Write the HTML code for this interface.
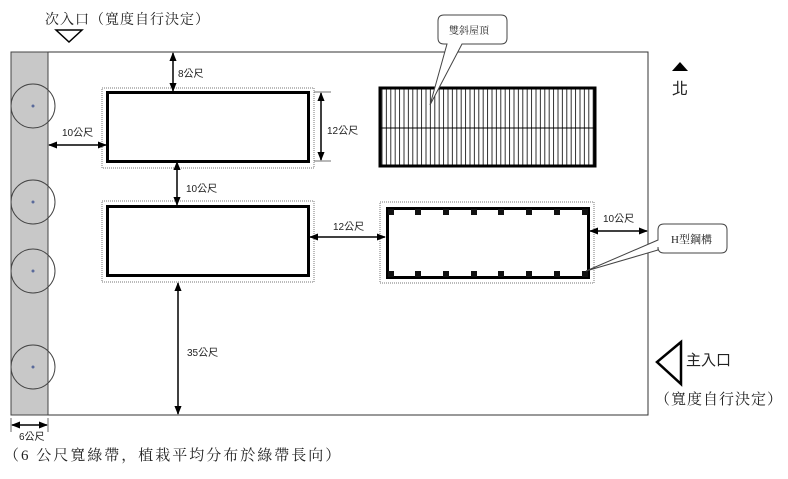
<!DOCTYPE html>
<html><head><meta charset="utf-8"><style>
html,body{margin:0;padding:0;background:#fff;}
svg{display:block;}
text{font-family:"Liberation Sans","Noto Sans CJK TC",sans-serif;fill:#222;}
.s{font-family:"Liberation Serif","Noto Serif CJK SC",serif;}
</style></head><body>
<svg width="788" height="479" viewBox="0 0 788 479" xmlns="http://www.w3.org/2000/svg">
<defs>
<marker id="a" viewBox="0 0 10 10" refX="9" refY="5" markerWidth="6" markerHeight="6" orient="auto-start-reverse"><path d="M0,1 L10,5 L0,9 z" fill="#000"/></marker>
<pattern id="vl" x="380" y="0" width="4.4" height="10" patternUnits="userSpaceOnUse"><line x1="2" y1="0" x2="2" y2="10" stroke="#000" stroke-width="0.8"/></pattern>
</defs>
<text x="45" y="24" font-size="14" class="s" letter-spacing="1">次入口（寬度自行決定）</text>
<polygon points="56,30 82,30 69,42" fill="none" stroke="#000" stroke-width="1.5"/>
<rect x="11" y="52" width="637" height="363" fill="#fff" stroke="#333" stroke-width="1"/>
<rect x="11" y="52" width="37" height="363" fill="#c8c8c8" stroke="#444" stroke-width="1"/>
<g fill="none" stroke="#444" stroke-width="1">
<circle cx="33" cy="106" r="22"/><circle cx="33" cy="202" r="22"/><circle cx="33" cy="271" r="22"/><circle cx="33" cy="367" r="22"/>
</g>
<g fill="#5a6a9a"><circle cx="33" cy="106" r="1.5"/><circle cx="33" cy="202" r="1.5"/><circle cx="33" cy="271" r="1.5"/><circle cx="33" cy="367" r="1.5"/></g>
<g fill="none" stroke="#777" stroke-width="1" stroke-dasharray="1,1">
<rect x="102" y="88" width="212" height="80"/>
<rect x="102" y="201" width="212" height="81"/>
<rect x="380" y="202" width="214" height="81"/>
</g>
<rect x="107.5" y="92.5" width="201" height="69" fill="#fff" stroke="#000" stroke-width="3"/>
<rect x="107.5" y="206.5" width="201" height="69" fill="#fff" stroke="#000" stroke-width="3"/>
<rect x="380" y="88" width="215" height="78" fill="url(#vl)" stroke="#000" stroke-width="3"/>
<line x1="380" y1="128" x2="595" y2="128" stroke="#000" stroke-width="1"/>
<rect x="387.5" y="208.5" width="201" height="69" fill="#fff" stroke="#000" stroke-width="3"/>
<g fill="#111">
<rect x="388" y="209" width="6" height="6"/><rect x="415" y="209" width="6" height="6"/><rect x="443" y="209" width="6" height="6"/><rect x="471" y="209" width="6" height="6"/><rect x="498" y="209" width="6" height="6"/><rect x="526" y="209" width="6" height="6"/><rect x="554" y="209" width="6" height="6"/><rect x="582" y="209" width="6" height="6"/>
<rect x="388" y="271" width="6" height="6"/><rect x="415" y="271" width="6" height="6"/><rect x="443" y="271" width="6" height="6"/><rect x="471" y="271" width="6" height="6"/><rect x="498" y="271" width="6" height="6"/><rect x="526" y="271" width="6" height="6"/><rect x="554" y="271" width="6" height="6"/><rect x="582" y="271" width="6" height="6"/>
</g>
<g stroke="#000" stroke-width="1.5" marker-start="url(#a)" marker-end="url(#a)">
<line x1="173" y1="53" x2="173" y2="91"/>
<line x1="49" y1="145" x2="106" y2="145"/>
<line x1="321" y1="93" x2="321" y2="160"/>
<line x1="177" y1="162" x2="177" y2="205"/>
<line x1="310" y1="237" x2="385" y2="237"/>
<line x1="590" y1="231" x2="647" y2="231"/>
<line x1="178" y1="283" x2="178" y2="414"/>
<line x1="12" y1="425" x2="47" y2="425"/>
</g>
<g stroke="#444" stroke-width="0.8">
<line x1="314" y1="92" x2="331" y2="92"/><line x1="314" y1="161" x2="331" y2="161"/>
<line x1="11" y1="418" x2="11" y2="432"/><line x1="48" y1="418" x2="48" y2="432"/>
</g>
<g font-size="10">
<text x="178" y="77">8公尺</text>
<text x="62" y="136">10公尺</text>
<text x="327" y="134">12公尺</text>
<text x="186" y="192">10公尺</text>
<text x="333" y="230">12公尺</text>
<text x="603" y="222">10公尺</text>
<text x="187" y="356">35公尺</text>
<text x="19" y="440">6公尺</text>
</g>
<path d="M444,15 H501 Q507,15 507,21 V38 Q507,44 501,44 H462 L430,105 L447,44 H444 Q438,44 438,38 V21 Q438,15 444,15 Z" fill="#fff" stroke="#444" stroke-width="1"/>
<text x="449" y="34" font-size="10" class="s">雙斜屋頂</text>
<path d="M664,224 H721 Q727,224 727,230 V247 Q727,253 721,253 H664 Q658,253 658,247 V250 L586,271 L658,240 V230 Q658,224 664,224 Z" fill="#fff" stroke="#444" stroke-width="1"/>
<text x="671" y="243" font-size="11" class="s">H型鋼構</text>
<polygon points="672,71 688,71 680,62" fill="#000"/>
<text x="672" y="94" font-size="16">北</text>
<polygon points="681,342 657,362 681,384" fill="none" stroke="#000" stroke-width="2.5"/>
<text x="686" y="365" font-size="15">主入口</text>
<text x="655" y="404" font-size="15" class="s" letter-spacing="1">（寬度自行決定）</text>
<text x="4" y="460" font-size="15" class="s" letter-spacing="2">（6 公尺寬綠帶，植栽平均分布於綠帶長向）</text>
</svg>
</body></html>
